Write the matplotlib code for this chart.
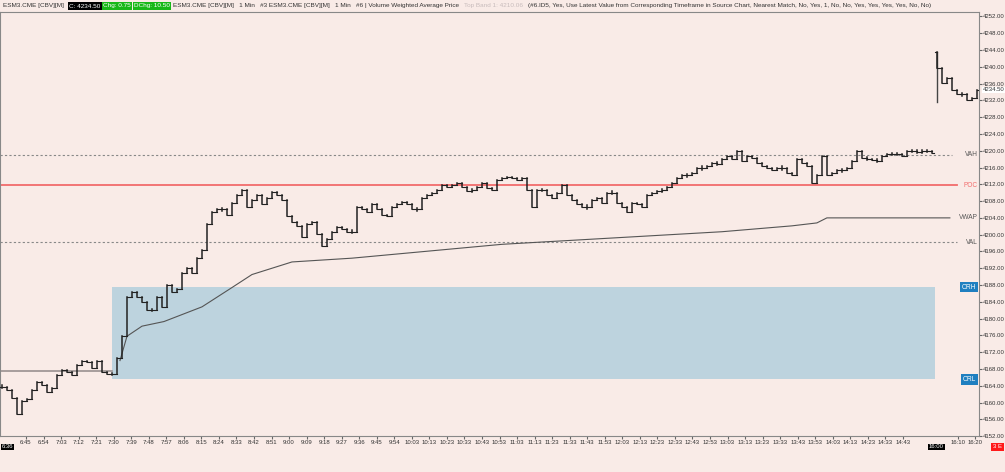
import matplotlib
matplotlib.use("Agg")
import matplotlib.pyplot as plt
import numpy as np
from matplotlib import font_manager

names = {f.name for f in font_manager.fontManager.ttflist}
FONT = "Liberation Sans Narrow" if "Liberation Sans Narrow" in names else "Liberation Sans"
plt.rcParams["font.family"] = [FONT, "DejaVu Sans"]

closes = [4163.8,4163.1,4161.2,4157.3,4160.3,4160.8,4163.1,4164.9,4164.2,4162.6,4163.5,4166.6,4167.7,4167.3,4166.6,4168.9,4170.0,4169.6,4168.2,4170.0,
4167.3,4166.8,4166.8,4170.5,4175.8,4185.1,4186.3,4185.1,4183.9,4182.1,4182.1,4185.1,4182.8,4188.1,4186.3,4187.0,4190.9,4192.1,4190.9,4194.4,
4196.3,4202.5,4205.3,4206.0,4206.0,4204.8,4207.6,4209.5,4210.6,4206.5,4208.3,4209.5,4207.2,4208.8,4210.2,4209.5,4208.3,4204.4,4203.0,4202.1,
4199.5,4202.5,4203.0,4200.2,4197.2,4199.0,4200.7,4201.8,4201.4,4200.7,4200.7,4206.5,4206.0,4205.3,4207.2,4206.0,4204.8,4204.4,4206.5,4207.2,
4207.9,4207.2,4206.0,4206.0,4208.8,4209.5,4210.0,4210.6,4211.8,4211.3,4211.8,4212.3,4211.3,4210.4,4210.6,4211.3,4212.3,4211.1,4210.6,4213.0,
4213.4,4213.7,4213.4,4213.0,4213.4,4210.6,4206.7,4210.6,4210.6,4209.5,4208.8,4210.0,4211.8,4209.5,4208.3,4207.2,4206.5,4206.7,4208.3,4208.8,
4207.6,4210.0,4210.0,4207.6,4206.7,4205.5,4207.6,4207.2,4206.5,4209.5,4210.0,4210.4,4210.6,4211.3,4212.3,4213.4,4214.1,4214.1,4214.8,4215.8,
4216.0,4216.4,4217.1,4216.9,4218.1,4218.8,4218.1,4219.9,4217.6,4218.8,4218.3,4217.1,4216.4,4216.0,4215.3,4216.0,4215.8,4214.6,4214.1,4218.1,
4217.1,4216.4,4212.3,4214.1,4218.8,4214.1,4214.6,4215.3,4215.3,4216.0,4217.6,4219.9,4218.3,4218.1,4217.8,4217.6,4218.8,4219.2,4219.2,4219.2,
4218.8,4219.9,4219.9,4219.7,4219.9,4219.9,4219.5]
s2_open = 4243.6
s2_low = 4231.5
s2_closes = [4239.6,4236.1,4237.3,4234.5,4233.4,4233.4,4232.0,4232.5,4234.5]

vwap_idx = [23.6,25,28,32.4,40,43,46,50,58,70,100,144,158,163,165,189.6]
vwap_val = [4170.0,4175.8,4178.2,4179.3,4182.8,4185.1,4187.4,4190.5,4193.5,4194.4,4197.7,4200.7,4202.1,4202.8,4204.0,4204.0]

VAH, POC, VAL = 4219.0, 4211.8, 4198.2
ORH, ORL = 4187.5, 4165.5
prior_close = 4167.6
last = 4234.50

xlabels = ["6:45","6:54","7:03","7:12","7:21","7:30","7:39","7:48","7:57","8:06","8:15","8:24","8:33","8:42","8:51",
"9:00","9:09","9:18","9:27","9:36","9:45","9:54","10:03","10:13","10:23","10:33","10:43","10:53","11:03","11:13","11:23",
"11:33","11:43","11:53","12:03","12:13","12:23","12:33","12:43","12:53","13:03","13:13","13:23","13:33","13:43","13:53",
"14:03","14:13","14:23","14:33","14:43"]

FS = 4.3
bg = "#f9ebe7"
fig = plt.figure(figsize=(10.05, 4.72), dpi=100, facecolor=bg)
ax = fig.add_axes([0, 0.076, 0.974, 0.899], facecolor=bg)
ax.set_xlim(-0.4, 195.4)
ax.set_ylim(4154.7, 4253.1)

ax.fill_between([22, 186.6], ORL, ORH, color="#bdd3de", lw=0, zorder=1)
ax.plot([-0.4, 22], [prior_close]*2, color="#9a9090", lw=1.2, zorder=2)

ax.plot([-0.4, 190], [VAH]*2, ls=(0, (2, 2)), color="#888", lw=0.8)
ax.plot([-0.4, 191], [VAL]*2, ls=(0, (2, 2)), color="#888", lw=0.8)
ax.plot([-0.4, 191], [POC]*2, color="#f26b6b", lw=1.3)
ax.plot(vwap_idx, vwap_val, color="#555", lw=0.8)

def bars(xs, opens, cls):
    for x, o, c in zip(xs, opens, cls):
        lo, hi = min(o, c), max(o, c)
        if hi - lo < 0.3:
            lo -= 0.3; hi += 0.3
        ax.plot([x, x], [lo, hi], color="#222", lw=1.1, zorder=3)
        ax.plot([x - 0.35, x], [o, o], color="#222", lw=0.8, zorder=3)
        ax.plot([x, x + 0.35], [c, c], color="#222", lw=0.8, zorder=3)

n = len(closes)
bars(range(n), [closes[0]] + closes[:-1], closes)
xs2 = np.arange(n, n + len(s2_closes))
ax.plot([xs2[0], xs2[0]], [s2_low, s2_open], color="#444", lw=1.0, zorder=3)
bars(xs2, [s2_open] + s2_closes[:-1], s2_closes)

for lab, val, col in [("VAH", VAH, "#555"), ("POC", POC, "#f26b6b"), ("VWAP", 4204.0, "#555"), ("VAL", VAL, "#555")]:
    ax.text(195.2, val, lab, ha="right", va="center", fontsize=FS + 0.4, color=col, zorder=5)
for lab, val in [("ORH", ORH), ("ORL", ORL)]:
    ax.text(194.9, val, lab, ha="right", va="center", fontsize=FS + 0.4, color="white", zorder=5,
            bbox=dict(boxstyle="square,pad=0.25", fc="#1f7fc0", ec="none"))

ax.yaxis.tick_right()
yt = np.arange(4152, 4253, 4)
ax.set_yticks(yt)
ax.set_yticklabels([f"{v:.2f}" for v in yt], fontsize=FS, color="#333")
ax.tick_params(axis="y", length=2, pad=0.5, color="#666")
xt = np.linspace(26, 903, len(xlabels)) / 5.0 - 0.4
ax.set_xticks(list(xt) + [n + 4.2, n + 7.6])
ax.set_xticklabels(xlabels + ["16:10", "16:20"], fontsize=FS, color="#333")
ax.tick_params(axis="x", length=2, pad=1, color="#666")
for s in ax.spines.values():
    s.set_color("#888")

yb = 1 - 447/472
fig.text(2/1005, yb, "6:36", fontsize=FS, color="white", va="center",
         bbox=dict(boxstyle="square,pad=0.15", fc="black", ec="none"))
fig.text(929/1005, yb, "16:00", fontsize=FS, color="white", va="center",
         bbox=dict(boxstyle="square,pad=0.15", fc="black", ec="none"))
fig.text(993/1005, yb, "3 E", fontsize=FS, color="white", va="center",
         bbox=dict(boxstyle="square,pad=0.3", fc="#ff1a1a", ec="none"))
ax.text(1.004, last, f"{last:.2f}", transform=ax.get_yaxis_transform(), fontsize=FS, va="center",
        color="#333", bbox=dict(boxstyle="square,pad=0.1", fc="white", ec="none"))

y0 = 1 - 6/472
parts = [
    ("ESM3.CME [CBV][M]", "#333", None),
    ("C: 4234.50", "white", "black"),
    ("Chg: 0.75", "white", "#18b818"),
    ("DChg: 10.50", "white", "#18b818"),
    ("ESM3.CME [CBV][M]   1 Min   #3 ESM3.CME [CBV][M]   1 Min   #6 | Volume Weighted Average Price", "#333", None),
    ("Top Band 1: 4210.06", "#c8bcbc", None),
    ("(#6.ID5, Yes, Use Latest Value from Corresponding Timeframe in Source Chart, Nearest Match, No, Yes, 1, No, No, Yes, Yes, Yes, Yes, No, No)", "#333", None),
]
fig.canvas.draw()
r = fig.canvas.get_renderer()
xpix = 3
for txt, col, fc in parts:
    kw = {}
    if fc:
        kw["bbox"] = dict(boxstyle="square,pad=0.2", fc=fc, ec="none")
    t = fig.text(xpix/1005, y0, txt, fontsize=4.6, color=col, va="center", **kw)
    w = t.get_window_extent(r).width
    xpix += w + (3 if fc else 5)

fig.savefig("out.png", dpi=100, facecolor=bg)
